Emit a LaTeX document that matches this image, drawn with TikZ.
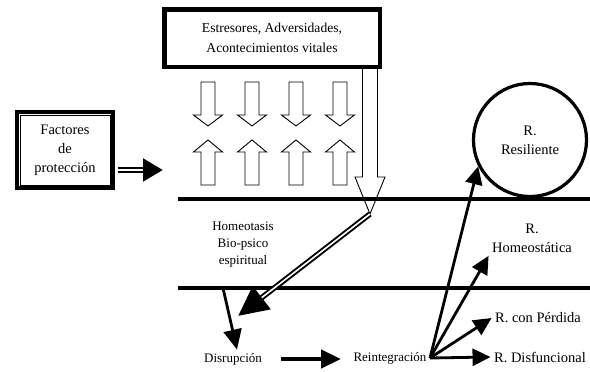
\documentclass[tikz,border=0pt]{standalone}
\usepackage{fontspec}
\setmainfont{Liberation Serif}
\usetikzlibrary{arrows.meta}

\tikzset{
  bigtext/.style={font=\fontsize{14.5}{19}\selectfont, align=center},
  smalltext/.style={font=\fontsize{13}{17}\selectfont, align=center},
  thickbox/.style={draw, line width=3.5pt, inner sep=0pt},
  hline/.style={line width=4.8pt},
  blockarrow/.style={line width=0.9pt, line join=miter},
  solidarrow/.style={line width=2.8pt, -{Triangle[length=18pt,width=17pt]}},
  dblarrow/.style 2 args={line width=5.5pt, -{Triangle[length=#1,width=#2]},
    postaction={draw, -, white, line width=1.6pt, shorten >=#1}},
}

\begin{document}
\begin{tikzpicture}[x=1pt,y=-1pt]
  \useasboundingbox (0,0) rectangle (590,372);

  % big hollow arrow
  \coordinate (bigtip) at (370,214);
  \draw[blockarrow] (362.5,69) -- (362.5,177) -- (355,177) -- (bigtip)
    -- (385,177) -- (377.5,177) -- (377.5,69);

  % Estresores
  \node[thickbox, minimum width=216pt, minimum height=58pt,
    font=\fontsize{13.6}{20}\selectfont, align=center] (stress) at (272,38)
    {Estresores, Adversidades,\\Acontecimientos vitales};
  \draw ([xshift=3.75pt,yshift=3.75pt]stress.south west)
    rectangle ([xshift=-3.75pt,yshift=-3.75pt]stress.north east);

  % Factores de proteccion
  \node[thickbox, bigtext, minimum width=96pt, minimum height=76pt] (fac) at (65,150)
    {Factores\\de\\protección};
  \draw ([xshift=4.5pt,yshift=4.5pt]fac.south west)
    rectangle ([xshift=-4.5pt,yshift=-4.5pt]fac.north east);

  % small hollow arrows
  \foreach \x in {208,252,296,340} {
    \draw[blockarrow] (\x-7,82) -- (\x+7,82) -- (\x+7,115) -- (\x+14.5,115)
      -- (\x,126) -- (\x-14.5,115) -- (\x-7,115) -- cycle;
    \draw[blockarrow] (\x-7,185) -- (\x+7,185) -- (\x+7,152) -- (\x+14.5,152)
      -- (\x,140) -- (\x-14.5,152) -- (\x-7,152) -- cycle;
  }

  % levels
  \draw[hline] (178,199) -- (590,199);
  \draw[hline] (178,288) -- (590,288);

  % responses
  \node[draw, circle, line width=3.2pt, minimum size=113pt, inner sep=0pt, bigtext]
    (res) at (530,140) {R.\\Resiliente};
  \node[bigtext] (rhomeo) at (532,238) {R.\\Homeostática};
  \node[bigtext] (perd) at (538,318) {R. con Pérdida};
  \node[bigtext] (disf) at (540,357) {R. Disfuncional};

  \node[smalltext] (homeo) at (243,245) {Homeotasis\\Bio-psico\\espiritual};
  \node[smalltext] (disr) at (233,359) {Disrupción};
  \node[smalltext] (reint) at (390,358) {Reintegración};

  % arrows
  \coordinate (facin) at (163,170);
  \draw[dblarrow={20pt}{22pt}, shorten <=3pt] (fac.east |- facin) -- (facin);

  \coordinate (dhead) at (238,316);
  \draw[dblarrow={30pt}{28pt}] (bigtip) -- (dhead);

  \coordinate (dtop) at (223,288);
  \draw[solidarrow, -{Triangle[length=20pt,width=18pt]}] (dtop) -- ([xshift=4pt]disr.north);
  \draw[solidarrow, line width=4.5pt, -{Triangle[length=20pt,width=18pt]},
    shorten <=16pt, shorten >=9pt] (disr.east) -- (disr.east -| reint.west);

  \coordinate (fan) at (reint.east);
  \draw[solidarrow] (fan) -- (res.207);
  \draw[solidarrow] (fan) -- (rhomeo.south west);
  \draw[solidarrow] (fan) -- (perd.west);
  \draw[solidarrow] (fan) -- (disf.west);
\end{tikzpicture}
\end{document}
